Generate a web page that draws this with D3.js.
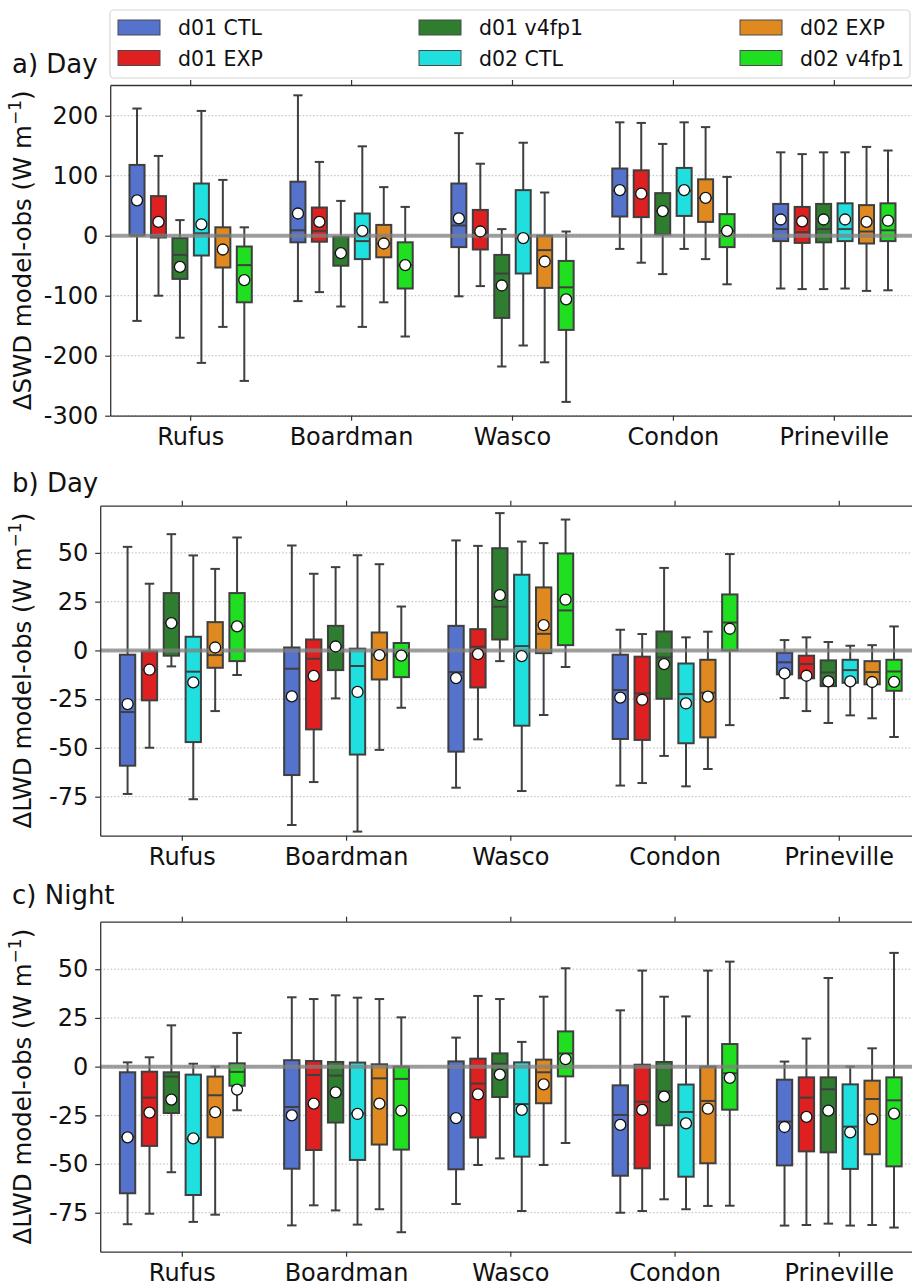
<!DOCTYPE html>
<html>
<head>
<meta charset="utf-8">
<script src="https://cdn.jsdelivr.net/npm/d3@7"></script>
<style>
    body { margin: 0; background: #fff; }
    svg { display: block; font-family: "DejaVu Sans", sans-serif; }
</style>
</head>
<body>
<svg id="chart" width="912" height="1285"></svg>
<script>
// Stations and experiments
const stations = ["Rufus", "Boardman", "Wasco", "Condon", "Prineville"];
const series = ["d01 CTL", "d01 EXP", "d01 v4fp1", "d02 CTL", "d02 EXP", "d02 v4fp1"];
const colors = ["#5573cd", "#df2020", "#2f7e2f", "#20dfdf", "#df8920", "#20df20"];

// each box: [whisker low, q1, median, q3, whisker high, mean]
const swdDay = [
    [[-142, 1, 0, 118, 212, 59], [-100, -3, 0, 66, 133, 23], [-170, -72, -32, -4, 26, -52],
     [-212, -33, 4, 87, 208, 19], [-152, -53, 0, 14, 93, -23], [-242, -111, -49, -18, 14, -74]],
    [[-109, -11, 9, 90, 234, 37], [-94, -10, 8, 47, 123, 23], [-118, -50, -29, -2, 58, -29],
     [-152, -39, -9, 37, 149, 8], [-111, -36, -13, 18, 81, -13], [-168, -88, -49, -11, 48, -49]],
    [[-101, -19, 17, 87, 171, 29], [-84, -23, 5, 43, 120, 7], [-218, -137, -63, -32, 11, -83],
     [-183, -63, -3, 76, 155, -4], [-211, -87, -24, 0, 72, -43], [-277, -157, -86, -42, 7, -106]],
    [[-22, 32, 75, 112, 189, 76], [-45, 31, 70, 109, 188, 70], [-64, 2, 41, 71, 153, 41],
     [-22, 33, 75, 113, 189, 76], [-39, 23, 63, 94, 181, 63], [-81, -19, 8, 36, 98, 8]],
    [[-88, -9, 11, 53, 139, 27], [-89, -12, 6, 48, 136, 24], [-89, -11, 11, 53, 139, 27],
     [-88, -9, 11, 54, 139, 27], [-92, -13, 7, 51, 148, 23], [-91, -9, 9, 54, 142, 25]]
];

const lwdDay = [
    [[-73.6, -59.1, -31.6, -2.2, 53.1, -27.5], [-49.9, -25.6, -10, -0.5, 34.2, -9.9], [-8.2, -2.7, 14, 29.4, 59.6, 14],
     [-76.3, -47, -10.9, 7, 48.7, -16.4], [-31.1, -8.9, -2.4, 14.5, 41.8, 1.5], [-12.6, -5.5, 12.3, 29.4, 57.9, 12.3]],
    [[-89.5, -63.9, -9.4, 1.5, 53.8, -23.6], [-67.5, -40.5, -4.3, 5.6, 39.3, -13.1], [-24.6, -10.1, 2, 12.6, 42.7, 2],
     [-92.9, -53.4, -8, 0.9, 48.8, -21.3], [-51, -14.9, -2.4, 9.2, 44.2, -2.4], [-29.4, -13.7, -2.7, 3.8, 22.5, -2.7]],
    [[-70.4, -51.9, -11.1, 12.6, 56.4, -14.2], [-45.6, -19, 1.9, 10.9, 53.6, -1.9], [-5.5, 5.6, 22.4, 52.4, 70.4, 28.3],
     [-72.1, -38.6, 2.2, 38.8, 55.8, -2.9], [-33.1, -1.4, 8.5, 32.3, 55, 13], [-8.5, 2.7, 20.5, 49.7, 67.1, 26]],
    [[-69.3, -45.4, -20.3, -2.2, 10.6, -24.2], [-68, -45.9, -22, -3.2, 8.4, -25.3], [-54.1, -24.8, -3.6, 9.7, 42.3, -7],
     [-69.7, -47.6, -22.4, -6.7, 6.7, -27.2], [-60.8, -44.6, -21.7, -4.8, 9.6, -23.7], [-38.3, 0, 14.3, 28.7, 49.4, 11.1]],
    [[-24.4, -12.3, -6.1, -1.2, 5.3, -11.8], [-31.1, -14.3, -7, -2.7, 6.7, -13], [-37.2, -18.3, -11.3, -5.1, 4.3, -15.9],
     [-33.3, -16.6, -10.1, -4.8, 2.4, -15.9], [-34.8, -17.4, -11.1, -5.5, 2.7, -16.2], [-44.4, -20.7, -10.8, -4.8, 12.3, -16.1]]
];

const lwdNight = [
    [[-80.9, -65, -36, -2.9, 2.2, -36.3], [-75.5, -40.7, -15.9, -2.6, 4.8, -23.6], [-54.2, -23.8, -5.1, -2.9, 21.2, -16.9],
     [-79.7, -65.9, -37, -4.1, 1.5, -36.8], [-76, -36.3, -14.7, -5.1, 0, -23.4], [-22.4, -9.8, -2.7, 1.7, 17.3, -11.8]],
    [[-81.5, -52.4, -20.7, 3.3, 35.6, -25], [-71.2, -42.8, -4.3, 2.9, 34.7, -19], [-73.8, -28.7, -4.6, 2.4, 36.6, -13.2],
     [-81.1, -47.9, -24, 2.1, 35.4, -24.3], [-73.2, -40, -6, 1.2, 34.7, -19], [-85, -42.6, -6.3, 0, 25.3, -22.6]],
    [[-70.5, -52.7, -26, 2.7, 14.9, -26.4], [-50.5, -36.4, -8.7, 4.1, 36.3, -14.2], [-47.1, -15.6, 1.5, 6.8, 34.7, -4.1],
     [-74.1, -46.2, -19.2, 2.2, 12.7, -22.2], [-50.5, -18.8, -2.9, 3.6, 35.9, -9.1], [-39.2, -5, 6.8, 18.1, 50.5, 3.9]],
    [[-75, -56, -24.8, -9.6, 28.9, -29.9], [-74.1, -52.2, -18, 1, 49.3, -22.2], [-68.1, -30.1, -12.7, 2.4, 35.9, -15.4],
     [-73.2, -56.5, -23.3, -9.2, 25.8, -29.1], [-71.5, -49.6, -17.6, 0, 49.3, -21.6], [-71.4, -22.1, -3.4, 11.6, 53.9, -5.8]],
    [[-81.6, -50.7, -28.2, -6.7, 2.6, -31], [-81.3, -43.5, -15.9, -5.5, 14.4, -25.8], [-80.6, -44, -11.6, -5.5, 45.5, -22.6],
     [-81.6, -52.5, -30.8, -9.1, 0, -33.7], [-81.3, -45, -16.6, -7.2, 9.4, -27], [-82.6, -51.2, -17.3, -5.5, 58.4, -24.1]]
];

const swdTicks = [200, 100, 0, -100, -200, -300];
const lwdTicks = [50, 25, 0, -25, -50, -75];

let svg = d3.select("#chart");

// Legend
let legend = svg.append("g").attr("class", "legend");
legend.append("rect")
    .attr("x", 110).attr("y", 10)
    .attr("width", 800).attr("height", 68)
    .attr("rx", 4)
    .attr("fill", "#fff")
    .attr("stroke", "#d6d6d6")
    .attr("stroke-width", 1.2);

let legendCols = [118, 419, 740];
series.forEach(function (s, i) {
    let cx = legendCols[Math.floor(i / 2)];
    let cy = 20 + (i % 2) * 30.5;
    legend.append("rect")
        .attr("x", cx).attr("y", cy)
        .attr("width", 42).attr("height", 15)
        .attr("fill", colors[i])
        .attr("stroke", "#4a4a4a")
        .attr("stroke-width", 1);
    legend.append("text")
        .attr("x", cx + 60).attr("y", cy + 15)
        .attr("font-size", 20.5)
        .attr("fill", "#111")
        .text(s);
});

// Draw one panel of grouped boxplots
function drawPanel(opts) {
    let g = svg.append("g");

    let x = d3.scaleBand()
        .domain(stations)
        .range([opts.left, opts.right]);

    let xs = d3.scaleBand()
        .domain(series)
        .range([0.1 * x.bandwidth(), 0.9 * x.bandwidth()]);

    let y = d3.scaleLinear()
        .domain(opts.domain)
        .range([opts.bottom, opts.top]);

    // dotted grid
    g.append("g")
        .selectAll("line")
        .data(opts.ticks)
        .enter().append("line")
        .attr("x1", opts.left).attr("x2", 912)
        .attr("y1", function (d) { return y(d); })
        .attr("y2", function (d) { return y(d); })
        .attr("stroke", "#b8b8b8")
        .attr("stroke-width", 1)
        .attr("stroke-dasharray", "1.5,2");

    let boxW = xs.bandwidth() * 0.7;
    let capW = boxW * 0.62;

    stations.forEach(function (st, si) {
        let grp = g.append("g");
        series.forEach(function (s, k) {
            let v = opts.data[si][k];
            let cx = x(st) + xs(s) + xs.bandwidth() / 2;
            let lineCol = "#3f3f3f";
            // whiskers
            grp.append("line")
                .attr("x1", cx).attr("x2", cx)
                .attr("y1", y(v[0])).attr("y2", y(v[1]))
                .attr("stroke", lineCol).attr("stroke-width", 2);
            grp.append("line")
                .attr("x1", cx).attr("x2", cx)
                .attr("y1", y(v[3])).attr("y2", y(v[4]))
                .attr("stroke", lineCol).attr("stroke-width", 2);
            // caps
            [v[0], v[4]].forEach(function (c) {
                grp.append("line")
                    .attr("x1", cx - capW / 2).attr("x2", cx + capW / 2)
                    .attr("y1", y(c)).attr("y2", y(c))
                    .attr("stroke", lineCol).attr("stroke-width", 2);
            });
            // box
            grp.append("rect")
                .attr("x", cx - boxW / 2)
                .attr("y", y(v[3]))
                .attr("width", boxW)
                .attr("height", y(v[1]) - y(v[3]))
                .attr("fill", colors[k])
                .attr("stroke", lineCol)
                .attr("stroke-width", 2);
            // median
            grp.append("line")
                .attr("x1", cx - boxW / 2).attr("x2", cx + boxW / 2)
                .attr("y1", y(v[2])).attr("y2", y(v[2]))
                .attr("stroke", lineCol).attr("stroke-width", 2);
        });
    });

    // zero line
    g.append("line")
        .attr("x1", opts.left).attr("x2", 912)
        .attr("y1", y(0)).attr("y2", y(0))
        .attr("stroke", "#808080")
        .attr("stroke-opacity", 0.75)
        .attr("stroke-width", 4);

    // mean markers
    stations.forEach(function (st, si) {
        series.forEach(function (s, k) {
            let v = opts.data[si][k];
            g.append("circle")
                .attr("cx", x(st) + xs(s) + xs.bandwidth() / 2)
                .attr("cy", y(v[5]))
                .attr("r", 5.5)
                .attr("fill", "#fff")
                .attr("stroke", "#111")
                .attr("stroke-width", 1.3);
        });
    });

    // axes
    let axLeft = g.append("g")
        .attr("transform", "translate(" + opts.left + ",0)")
        .call(d3.axisLeft(y)
            .tickValues(opts.ticks)
            .tickFormat(function (d) { return String(d); })
            .tickSize(5).tickSizeOuter(0).tickPadding(7));

    let axBottom = g.append("g")
        .attr("transform", "translate(0," + opts.bottom + ")")
        .call(d3.axisBottom(x).tickSize(5).tickSizeOuter(0).tickPadding(7));

    let axTop = g.append("g")
        .attr("transform", "translate(0," + opts.top + ")")
        .call(d3.axisTop(x).tickSize(5).tickSizeOuter(0).tickFormat(""));

    [axLeft, axBottom, axTop].forEach(function (a) {
        a.selectAll("path.domain").attr("stroke", "#333").attr("stroke-width", 1.3);
        a.selectAll(".tick line").attr("stroke", "#333").attr("stroke-width", 1.2);
        a.selectAll("text")
            .attr("font-size", 24)
            .attr("font-family", "DejaVu Sans")
            .attr("fill", "#111");
    });

    // y label
    let midY = (opts.top + opts.bottom) / 2;
    let lab = g.append("text")
        .attr("transform", "translate(31," + midY + ") rotate(-90)")
        .attr("text-anchor", "middle")
        .attr("font-size", 24.5)
        .attr("fill", "#111");
    lab.append("tspan").text(opts.label + " model-obs (W m");
    lab.append("tspan")
        .attr("baseline-shift", "super")
        .attr("font-size", 17)
        .text("\u22121");
    lab.append("tspan").text(")");

    // panel title
    g.append("text")
        .attr("x", 12).attr("y", opts.titleY)
        .attr("font-size", 26)
        .attr("fill", "#111")
        .text(opts.title);
}

drawPanel({
    data: swdDay, ticks: swdTicks, domain: [-300, 251.2],
    left: 110.2, right: 914.8, top: 85, bottom: 415.7,
    label: "\u0394SWD", title: "a) Day", titleY: 73
});

drawPanel({
    data: lwdDay, ticks: lwdTicks, domain: [-95, 74.2],
    left: 100.2, right: 921.4, top: 505.7, bottom: 835.7,
    label: "\u0394LWD", title: "b) Day", titleY: 492
});

drawPanel({
    data: lwdNight, ticks: lwdTicks, domain: [-95, 74.4],
    left: 100.2, right: 921.4, top: 921.7, bottom: 1251.7,
    label: "\u0394LWD", title: "c) Night", titleY: 904
});
</script>
</body>
</html>
